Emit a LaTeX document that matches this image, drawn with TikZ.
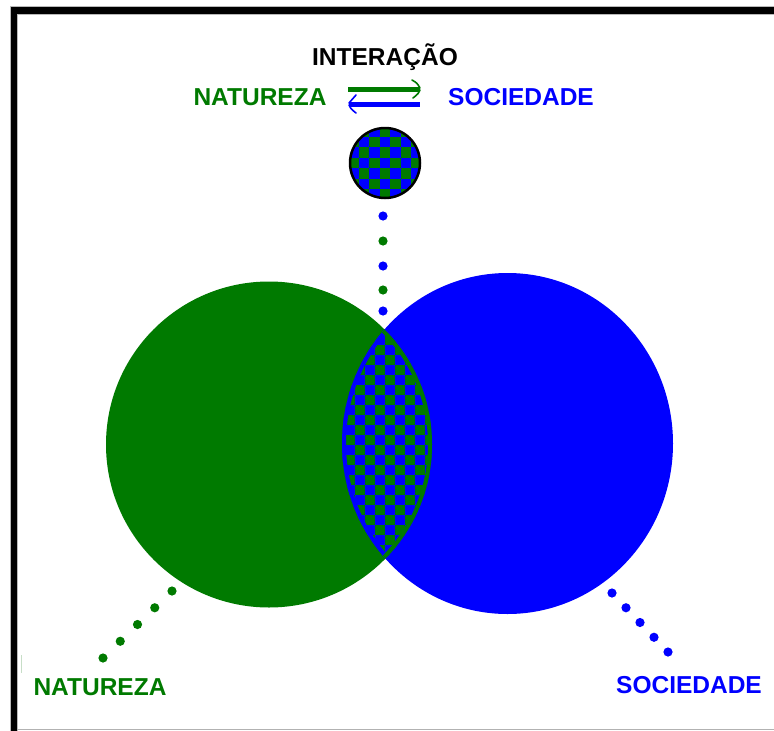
\documentclass[tikz,border=0pt]{standalone}
\usepackage{fontspec}
\setmainfont{Liberation Sans}
\usetikzlibrary{calc}
\definecolor{vgreen}{RGB}{0,122,0}
\definecolor{vblue}{RGB}{0,0,255}
\newcommand{\checkerboard}[5]{% x0, y0, ncols, nrows, size
  \fill[vgreen] (#1,#2) rectangle ++({#3*#5},{#4*#5});
  \foreach \ci in {1,...,#3}{%
    \foreach \cj in {1,...,#4}{%
      \pgfmathtruncatemacro\cpar{mod(\ci+\cj,2)}%
      \ifnum\cpar=0
        \fill[vblue] ({#1+(\ci-1)*#5},{#2+(\cj-1)*#5}) rectangle ++(#5,#5);
      \fi
    }%
  }%
}
\begin{document}
\begin{tikzpicture}[x=1pt,y=-1pt,
  lbl/.style={font=\bfseries\fontsize{24.5}{28}\selectfont, inner sep=0pt, anchor=base},
  dotg/.style={fill=vgreen},
  dotb/.style={fill=vblue},
  bar/.style={line width=5pt},
  barb/.style={line width=1.6pt, line cap=round}]
\useasboundingbox (0,0) rectangle (774,731);
\fill[white] (0,0) rectangle (774,731);
% frame
\fill[gray!55] (10,6) rectangle (774,15);
\fill[gray!55] (10,6) rectangle (18,731);
\fill[black] (11,7) rectangle (774,14);
\fill[black] (11,7) rectangle (17,731);
\draw[gray!60, line width=1pt] (17,729.5) -- (774,729.5);
\draw[green!25!gray!35, line width=1pt] (21,655) -- (21,673);

% big circles
\coordinate (gc) at (269,444.5);
\coordinate (bc) at (507.5,443.5);
\fill[vgreen] (gc) circle[radius=163];
\fill[vblue] (bc) ellipse[x radius=165.5, y radius=170.5];
% lens
\begin{scope}
  \clip (gc) circle[radius=163];
  \clip (bc) ellipse[x radius=165.5, y radius=170.5];
  \checkerboard{335}{315}{11}{26}{10}
  \draw[vblue, line width=8pt] (bc) ellipse[x radius=165.5, y radius=170.5];
  \draw[vgreen, line width=8pt] (gc) circle[radius=163];
\end{scope}

% small circle
\coordinate (sc) at (385,163);
\begin{scope}
  \clip (sc) circle[radius=35];
  \checkerboard{348}{126}{8}{8}{10.5}
\end{scope}
\draw[black, line width=2.5pt] (sc) circle[radius=35];

% vertical dots
\foreach \yy/\cc in {216/dotb,241/dotg,266/dotb,290/dotg,311/dotb}
  \fill[\cc] (383,\yy) circle[radius=4.6];

% lower dotted lines
\coordinate (g1) at (172,591);
\coordinate (g2) at (103,658);
\coordinate (b1) at (612,593);
\coordinate (b2) at (668,652);
\foreach \t in {0,0.25,0.5,0.75,1}{
  \fill[dotg] ($(g1)!\t!(g2)$) circle[radius=4.6];
  \fill[dotb] ($(b1)!\t!(b2)$) circle[radius=4.6];
}

% labels
\node[lbl, black] (inter) at (385,65) {INTERAÇÃO};
\node[lbl, vgreen] (natTop) at (260,105) {NATUREZA};
\node[lbl, vblue] (socTop) at (521,105) {SOCIEDADE};
\node[lbl, vgreen] (natBot) at (100,695) {NATUREZA};
\node[lbl, vblue] (socBot) at (689,693) {SOCIEDADE};

% interaction arrows
\coordinate (ga) at (348,89);
\coordinate (gb) at (420,89);
\coordinate (ba) at (349,104);
\coordinate (bb) at (420,104);
\draw[vgreen, bar] (ga) -- (gb);
\draw[vgreen, barb] (412,80) .. controls (417,83) .. (420,88);
\draw[vgreen, barb] (420,90) .. controls (418,94) .. (413,98);
\draw[vblue, bar] (ba) -- (bb);
\draw[vblue, barb] (356,95) .. controls (352,99) .. (349,103);
\draw[vblue, barb] (349,105) .. controls (351,109) .. (356,113);
\end{tikzpicture}
\end{document}
